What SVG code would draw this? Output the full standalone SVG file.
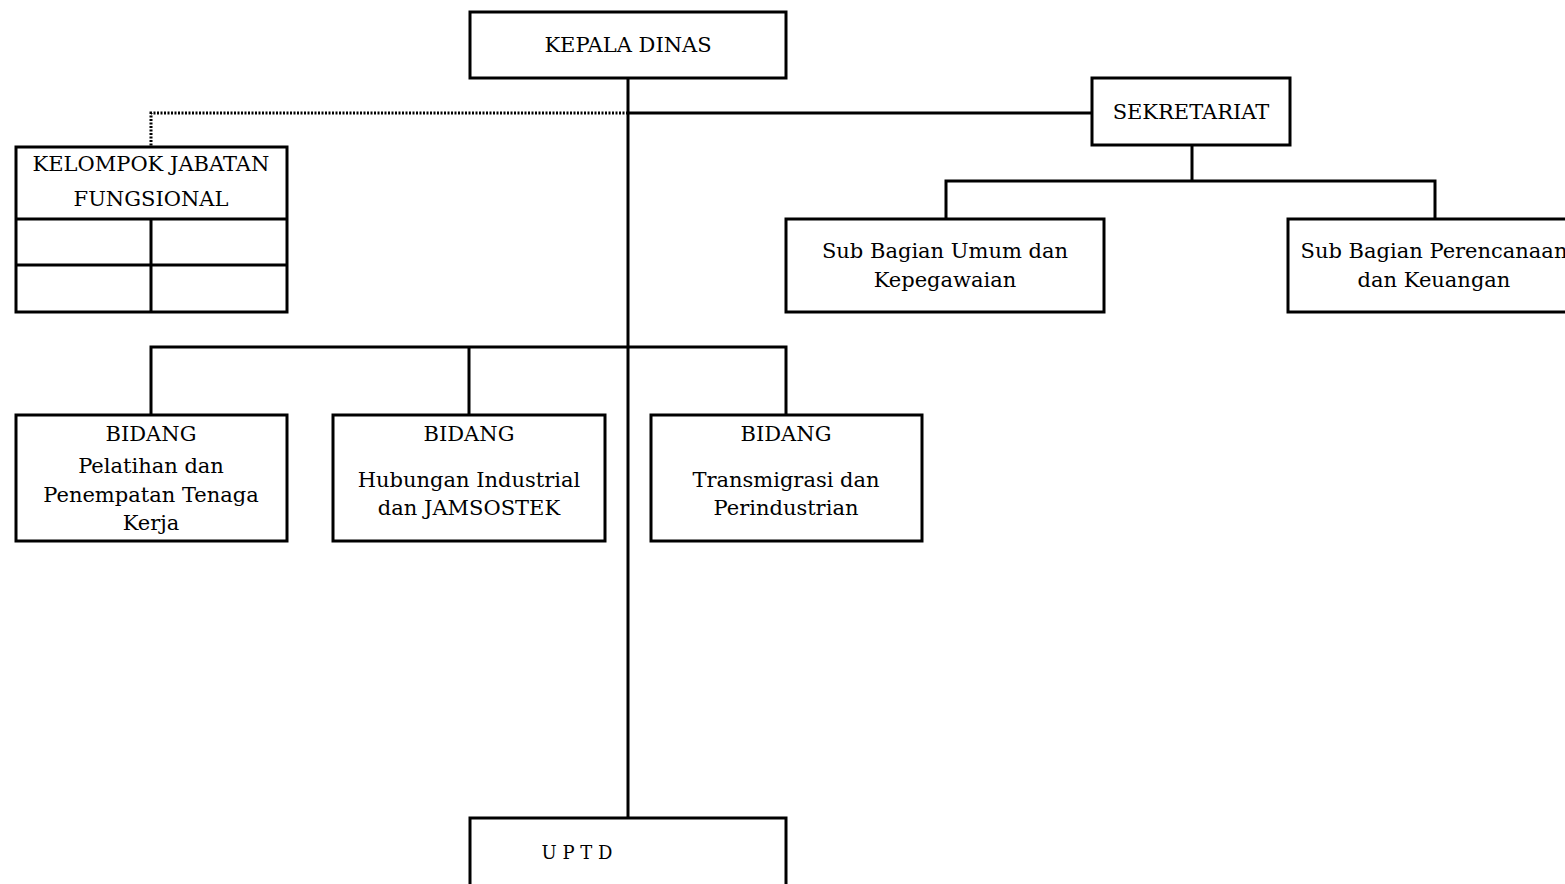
<svg xmlns="http://www.w3.org/2000/svg" width="1565" height="884" viewBox="0 0 1565 884">
<style>
.box{fill:#fff;stroke:#000;stroke-width:3}
.ln{fill:none;stroke:#000;stroke-width:3}
.dot{fill:none;stroke:#000;stroke-width:3;stroke-dasharray:2 1.5}
text{font-family:"DejaVu Serif","Liberation Serif",serif;font-size:21px;fill:#000;text-anchor:middle}
</style>
<rect width="1565" height="884" fill="#fff"/>
<g id="connectors">
<path class="ln" d="M628 78V818"/>
<path class="ln" d="M628 113H1092"/>
<path class="dot" d="M628 113H151V147"/>
<path class="ln" d="M1192 145V181M946 219V181H1435V219"/>
<path class="ln" d="M151 415V347H786V415M469 347V415"/>
</g>
<g id="kepala"><rect class="box" x="470" y="12" width="316" height="66"/><text x="628" y="52">KEPALA DINAS</text></g>
<g id="sekretariat"><rect class="box" x="1092" y="78" width="198" height="67"/><text x="1191" y="119">SEKRETARIAT</text></g>
<g id="kjf"><rect class="box" x="16" y="147" width="271" height="165"/>
<path class="ln" d="M16 219H287M16 265H287M151 219V312"/>
<text x="151" y="171">KELOMPOK JABATAN</text><text x="151" y="206">FUNGSIONAL</text></g>
<g id="subumum"><rect class="box" x="786" y="219" width="318" height="93"/><text x="945" y="258">Sub Bagian Umum dan</text><text x="945" y="287">Kepegawaian</text></g>
<g id="subren"><rect class="box" x="1288" y="219" width="300" height="93"/><text x="1434" y="258">Sub Bagian Perencanaan</text><text x="1434" y="287">dan Keuangan</text></g>
<g id="bidang1"><rect class="box" x="16" y="415" width="271" height="126"/><text x="151" y="441">BIDANG</text><text x="151" y="473">Pelatihan dan</text><text x="151" y="502">Penempatan Tenaga</text><text x="151" y="530">Kerja</text></g>
<g id="bidang2"><rect class="box" x="333" y="415" width="272" height="126"/><text x="469" y="441">BIDANG</text><text x="469" y="487">Hubungan Industrial</text><text x="469" y="515">dan JAMSOSTEK</text></g>
<g id="bidang3"><rect class="box" x="651" y="415" width="271" height="126"/><text x="786" y="441">BIDANG</text><text x="786" y="487">Transmigrasi dan</text><text x="786" y="515">Perindustrian</text></g>
<g id="uptd"><rect class="box" x="470" y="818" width="316" height="80"/><text x="577" y="859" style="font-size:18px">U P T D</text></g>
</svg>
